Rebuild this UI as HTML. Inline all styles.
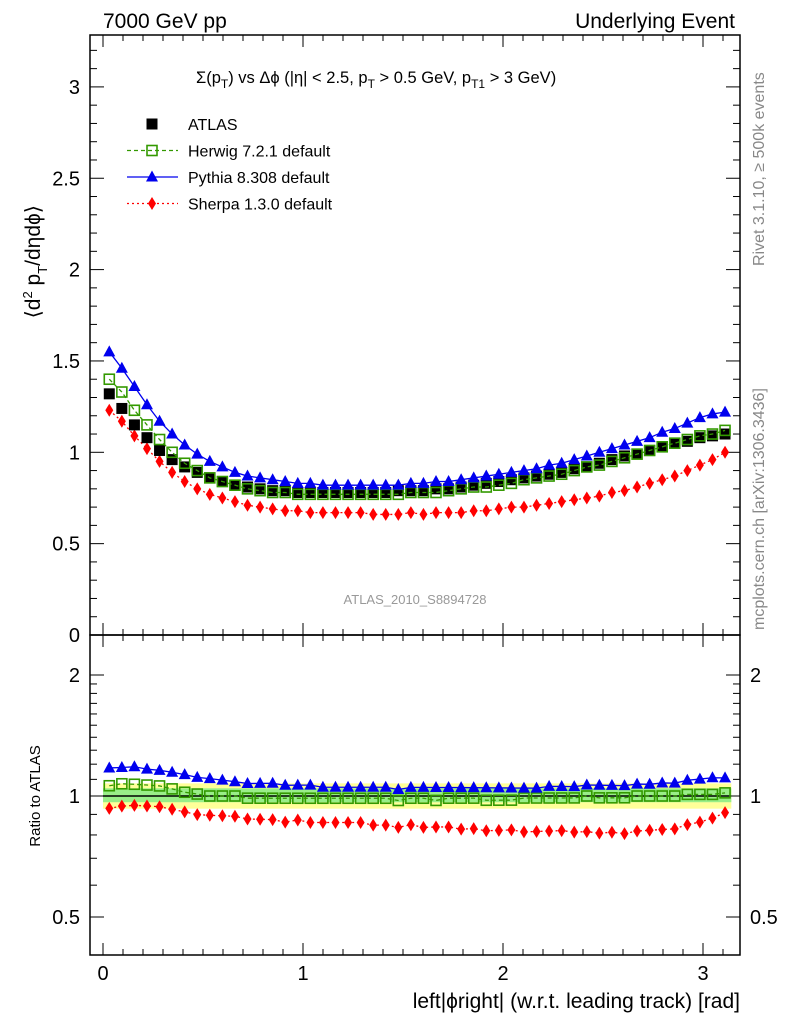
<!DOCTYPE html>
<html><head><meta charset="utf-8"><style>
body{margin:0;background:#fff}
svg text{font-family:"Liberation Sans",sans-serif}
</style></head><body>
<svg id="c" width="786" height="1024" xmlns="http://www.w3.org/2000/svg"></svg>
<script>
const xCenters = Array.from({length:50},(_,i)=>(i+0.5)*Math.PI/50);
const atlas = [1.32,1.24,1.15,1.08,1.01,0.96,0.92,0.89,0.86,0.84,0.82,0.81,0.80,0.79,0.79,0.78,0.78,0.78,0.78,0.78,0.78,0.78,0.78,0.79,0.79,0.79,0.80,0.80,0.81,0.82,0.83,0.84,0.85,0.86,0.87,0.88,0.89,0.91,0.92,0.94,0.96,0.98,0.99,1.01,1.03,1.05,1.06,1.08,1.09,1.10];
const herwig = [1.40,1.33,1.23,1.15,1.07,1.00,0.94,0.90,0.86,0.84,0.82,0.80,0.79,0.78,0.78,0.77,0.77,0.77,0.77,0.77,0.77,0.77,0.77,0.77,0.78,0.78,0.78,0.79,0.80,0.81,0.81,0.82,0.83,0.85,0.86,0.87,0.88,0.90,0.92,0.93,0.95,0.97,0.99,1.01,1.03,1.05,1.07,1.09,1.10,1.12];
const pythia = [1.55,1.46,1.36,1.26,1.17,1.10,1.04,0.99,0.95,0.92,0.89,0.87,0.86,0.85,0.84,0.83,0.83,0.82,0.82,0.82,0.82,0.82,0.82,0.82,0.83,0.83,0.84,0.84,0.85,0.86,0.87,0.88,0.89,0.90,0.91,0.93,0.94,0.96,0.98,1.00,1.02,1.04,1.06,1.08,1.11,1.13,1.16,1.19,1.21,1.22];
const sherpa = [1.23,1.17,1.09,1.02,0.95,0.89,0.84,0.80,0.77,0.75,0.73,0.71,0.70,0.69,0.68,0.68,0.67,0.67,0.67,0.67,0.67,0.66,0.66,0.66,0.67,0.66,0.67,0.67,0.67,0.68,0.68,0.69,0.70,0.70,0.71,0.72,0.73,0.74,0.75,0.76,0.78,0.79,0.81,0.83,0.85,0.87,0.90,0.93,0.96,1.00];
const mainTicks = [0,0.5,1,1.5,2,2.5,3];
const ratioTicks = [0.5,1,2];
const xTicks = [0,1,2,3];

const NS="http://www.w3.org/2000/svg", svg=document.getElementById('c');
function el(t,a,p){const e=document.createElementNS(NS,t);for(const k in a)e.setAttribute(k,a[k]);(p||svg).appendChild(e);return e;}
const L=90,R=740,T1=35,B1=635,T2=635,B2=955;
const X=v=>103+200*v;
const Y=v=>635-182.7*v;
const YR=v=>796-121*Math.log2(v);

let f=el('rect',{x:L,y:T1,width:R-L,height:B1-T1,fill:'none',stroke:'#000','stroke-width':1.5});

f=el('rect',{x:L,y:T2,width:R-L,height:B2-T2,fill:'none',stroke:'#000','stroke-width':1.5});


for(let v=0;v<=3.15;v+=0.1){const x=X(v);const maj=Math.abs(v-Math.round(v))<1e-6;const len=maj?12:6;
 for(const [t,b] of [[T1,B1],[T2,B2]]){el('line',{x1:x,x2:x,y1:b,y2:b-len,stroke:'#000'});el('line',{x1:x,x2:x,y1:t,y2:t+len,stroke:'#000'});}}
xTicks.forEach(v=>{const t=el('text',{x:X(v),y:980,'font-size':20,'text-anchor':'middle'});t.textContent=v;
 });
for(let i=0;i<=32;i++){const v=i/10;const y=Y(v);if(y<T1)continue;const maj=i%5==0;const len=maj?14:7;
 el('line',{x1:L,x2:L+len,y1:y,y2:y,stroke:'#000'});el('line',{x1:R,x2:R-len,y1:y,y2:y,stroke:'#000'});}
mainTicks.forEach(v=>{const t=el('text',{x:80,y:Y(v)+7,'font-size':20,'text-anchor':'end'});t.textContent=v;
 });
[0.5,0.6,0.7,0.8,0.9,1,1.1,1.2,1.3,1.4,1.5,1.6,1.7,1.8,1.9,2].forEach(v=>{const y=YR(v);const maj=ratioTicks.includes(v);const len=maj?14:7;
 el('line',{x1:L,x2:L+len,y1:y,y2:y,stroke:'#000'});el('line',{x1:R,x2:R-len,y1:y,y2:y,stroke:'#000'});});
ratioTicks.forEach(v=>{for(const [x,a] of [[80,'end'],[750,'start']]){const t=el('text',{x:x,y:YR(v)+7,'font-size':20,'text-anchor':a});t.textContent=v;
 }});

let b=el('rect',{x:X(0),y:YR(1.075),width:X(Math.PI)-X(0),height:YR(0.93)-YR(1.075),fill:'#ffff99'});

b=el('rect',{x:X(0),y:YR(1.045),width:X(Math.PI)-X(0),height:YR(0.965)-YR(1.045),fill:'#99ee88'});

el('line',{x1:X(0),x2:X(Math.PI),y1:YR(1),y2:YR(1),stroke:'#000','stroke-width':1.5});

function marker(kind,x,y,col,name){let m;
 if(kind=='sq') m=el('rect',{x:x-5.5,y:y-5.5,width:11,height:11,fill:col});
 else if(kind=='osq') m=el('rect',{x:x-5,y:y-5,width:10,height:10,fill:'none',stroke:col,'stroke-width':1.6});
 else if(kind=='tri') m=el('polygon',{points:`${x},${y-6.5} ${x-6},${y+4.5} ${x+6},${y+4.5}`,fill:col});
 else m=el('polygon',{points:`${x},${y-6.5} ${x-4},${y} ${x},${y+6.5} ${x+4},${y}`,fill:col});
 return m;}
function series(arr,yf,kind,col,dash,name,line){
 if(line){const p=el('polyline',{points:arr.map((v,i)=>X(xCenters[i])+','+yf(v,i)).join(' '),fill:'none',stroke:col,'stroke-width':1.3,'stroke-dasharray':dash});
  }
 arr.forEach((v,i)=>marker(kind,X(xCenters[i]),yf(v,i),col,name+'-point'));}
series(sherpa,v=>Y(v),'dia','#ff0000','2,3','sherpa',true);
series(atlas,v=>Y(v),'sq','#000','', 'atlas',false);
series(herwig,v=>Y(v),'osq','#339900','4,3','herwig',true);
series(pythia,v=>Y(v),'tri','#0000ee','','pythia',true);
series(sherpa,(v,i)=>YR(v/atlas[i]),'dia','#ff0000','2,3','sherpa-ratio',true);
series(herwig,(v,i)=>YR(v/atlas[i]),'osq','#339900','4,3','herwig-ratio',true);
series(pythia,(v,i)=>YR(v/atlas[i]),'tri','#0000ee','','pythia-ratio',true);

const leg=[['sq','#000','','ATLAS',false],['osq','#339900','4,3','Herwig 7.2.1 default',true],['tri','#0000ee','','Pythia 8.308 default',true],['dia','#ff0000','2,3','Sherpa 1.3.0 default',true]];
leg.forEach((l,i)=>{const y=124+26.5*i;
 if(l[4]){el('line',{x1:127,x2:178,y1:y,y2:y,stroke:l[1],'stroke-width':1.3,'stroke-dasharray':l[2]});}
 marker(l[0],152,y,l[1],'legend-marker');
 const t=el('text',{x:188,y:y+6,'font-size':16});t.textContent=l[3];
 });

function txt(s,a,name){const t=el('text',a);t.innerHTML=s;return t;}
txt('7000 GeV pp',{x:103,y:28,'font-size':21},'energy-label');
txt('Underlying Event',{x:735,y:28,'font-size':21,'text-anchor':'end'},'process-label');
txt('Σ(p<tspan font-size="12" dy="5">T</tspan><tspan dy="-5">) vs Δϕ (|η| &lt; 2.5, p</tspan><tspan font-size="12" dy="5">T</tspan><tspan dy="-5"> &gt; 0.5 GeV, p</tspan><tspan font-size="12" dy="5">T1</tspan><tspan dy="-5"> &gt; 3 GeV)</tspan>',{x:196,y:83,'font-size':16.5},'plot-title');
txt('⟨d<tspan font-size="13" dy="-8">2</tspan><tspan dy="8"> p</tspan><tspan font-size="13" dy="7">T</tspan><tspan dy="-7">/dηdϕ⟩</tspan>',{x:-205,y:40,'font-size':21,transform:'rotate(-90)','text-anchor':'end'},'y-axis-title');
txt('Ratio to ATLAS',{x:-796,y:40,'font-size':15,transform:'rotate(-90)','text-anchor':'middle'},'ratio-axis-title');
txt('left|ϕright| (w.r.t. leading track) [rad]',{x:740,y:1008,'font-size':21,'text-anchor':'end'},'x-axis-title');
txt('ATLAS_2010_S8894728',{x:415,y:604,'font-size':13,fill:'#999','text-anchor':'middle'},'analysis-id');
txt('Rivet 3.1.10, ≥ 500k events',{x:-266,y:764,'font-size':16,fill:'#888',transform:'rotate(-90)'},'rivet-label');
txt('mcplots.cern.ch [arXiv:1306.3436]',{x:-630,y:764,'font-size':16,fill:'#888',transform:'rotate(-90)'},'mcplots-label');
</script>
</body></html>
